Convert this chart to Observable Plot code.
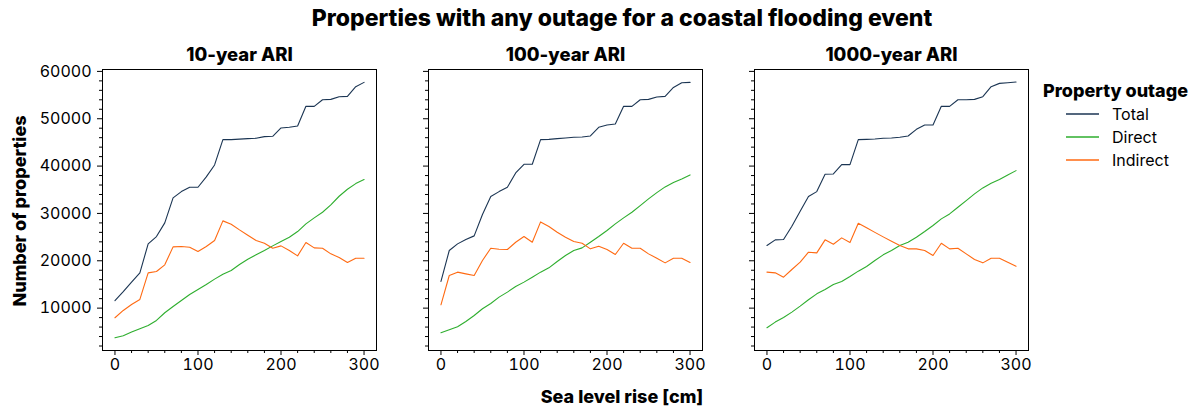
<!DOCTYPE html>
<html>
<head>
<meta charset="utf-8">
<script src="https://cdn.jsdelivr.net/npm/d3@7"></script>
<script src="https://cdn.jsdelivr.net/npm/@observablehq/plot@0.6"></script>
<style>
  html, body { margin: 0; padding: 0; background: #fff; }
  #wrap { position: relative; width: 1200px; height: 408px; font-family: Inter, "DejaVu Sans", sans-serif; color: #000; overflow: hidden; }
  .abs { position: absolute; }
  #title { left: 622px; top: 18px; transform: translate(-50%, -50%); font-weight: 800; font-size: 23px; white-space: nowrap; }
  #xlabel { left: 622px; top: 396px; transform: translate(-50%, -50%); font-weight: 800; font-size: 18px; white-space: nowrap; }
  #ylabel { left: 19px; top: 211px; transform: translate(-50%, -50%) rotate(-90deg); font-weight: 800; font-size: 18px; white-space: nowrap; }
  #legend { left: 1043px; top: 79px; }
  #legend .lt { font-weight: 800; font-size: 18px; white-space: nowrap; line-height: 24px; }
  #legend .row { display: flex; align-items: center; height: 22.7px; font-size: 16px; }
  #legend .row svg { margin-left: 23px; margin-right: 13px; }
</style>
</head>
<body>
<div id="wrap">
  <div id="title" class="abs"></div>
  <div id="ylabel" class="abs"></div>
  <div id="xlabel" class="abs"></div>
  <div id="legend" class="abs"></div>
</div>
<script>
// ---------- data ----------
const chartTitle = "Properties with any outage for a coastal flooding event";
const xLabel = "Sea level rise [cm]";
const yLabel = "Number of properties";
const legendTitle = "Property outage";
const panelTitles = ["10-year ARI", "100-year ARI", "1000-year ARI"];
const seriesNames = ["Total", "Direct", "Indirect"];
const seriesColors = ["#1b3553", "#2eae2e", "#ff6a12"];

const slr = [0, 10, 20, 30, 40, 50, 60, 70, 80, 90, 100, 110, 120, 130, 140, 150,
             160, 170, 180, 190, 200, 210, 220, 230, 240, 250, 260, 270, 280, 290, 300];

const xTicksMajor = [0, 100, 200, 300];
const xTicksMinor = [20, 40, 60, 80, 120, 140, 160, 180, 220, 240, 260, 280];
const yTicksMajor = [10000, 20000, 30000, 40000, 50000, 60000];
const yTicksMinor = [2000, 4000, 6000, 8000, 12000, 14000, 16000, 18000, 22000, 24000, 26000, 28000,
                     32000, 34000, 36000, 38000, 42000, 44000, 46000, 48000, 52000, 54000, 56000, 58000];

// 10-year ARI
const ari10Total = [11600, 13500, 15500, 17450, 23570, 25120, 28000, 33280, 34610, 35530, 35530, 37710, 40240, 45580, 45580, 45700,
                    45800, 45870, 46220, 46290, 48050, 48190, 48470, 52620, 52620, 54020, 54090, 54660, 54730, 56770, 57680];
const ari10Direct = [3740, 4160, 4940, 5640, 6340, 7400, 9020, 10350, 11620, 12880, 13940, 14990, 16120, 17170, 17950, 19210,
                     20340, 21250, 22170, 23150, 24070, 24980, 26170, 27790, 29060, 30250, 31800, 33630, 35110, 36300, 37150];
const ari10Indirect = [7960, 9510, 10770, 11830, 17450, 17740, 19140, 22940, 23010, 22870, 21960, 23010, 24280, 28430, 27720, 26530,
                       25400, 24280, 23710, 22660, 23150, 22170, 21040, 23850, 22730, 22660, 21460, 20690, 19630, 20550, 20550];

// 100-year ARI
const ari100Total = [15630, 22170, 23570, 24490, 25260, 29760, 33560, 34610, 35530, 38550, 40380, 40380, 45580, 45650, 45800, 45940,
                     46080, 46150, 46360, 48190, 48680, 48890, 52620, 52620, 54020, 54090, 54590, 54730, 56620, 57610, 57680];
const ari100Direct = [4800, 5430, 6060, 7190, 8450, 9860, 10990, 12320, 13380, 14570, 15490, 16540, 17600, 18510, 19850, 21110,
                      22170, 22730, 23920, 25120, 26390, 27790, 29060, 30250, 31660, 33070, 34400, 35600, 36510, 37290, 38130];
const ari100Indirect = [10700, 16890, 17600, 17240, 16890, 20060, 22660, 22450, 22380, 23920, 25120, 23920, 28210, 27230, 26030, 24980,
                        24070, 23710, 22520, 23080, 22380, 21320, 23710, 22660, 22660, 21460, 20550, 19560, 20550, 20550, 19630];

// 1000-year ARI
const ari1000Total = [23220, 24420, 24490, 27300, 30460, 33560, 34610, 38270, 38340, 40310, 40310, 45580, 45650, 45720, 45870, 45940,
                      46080, 46360, 47760, 48680, 48680, 52620, 52620, 54020, 54020, 54090, 54660, 56770, 57470, 57610, 57750];
const ari1000Direct = [5850, 7050, 8030, 9160, 10420, 11760, 13020, 13940, 14990, 15630, 16680, 17810, 18790, 20060, 21250, 22170,
                       23220, 23920, 24980, 26170, 27440, 28850, 29900, 31310, 32710, 34120, 35390, 36370, 37150, 38130, 39040];
const ari1000Indirect = [17600, 17450, 16540, 18160, 19700, 21810, 21670, 24420, 23500, 24840, 23850, 27930, 26980, 26000, 25050, 24140,
                         23220, 22520, 22520, 22170, 21110, 23710, 22520, 22660, 21460, 20270, 19560, 20550, 20550, 19700, 18860];

const panelSeries = [
  [ari10Total, ari10Direct, ari10Indirect],
  [ari100Total, ari100Direct, ari100Indirect],
  [ari1000Total, ari1000Direct, ari1000Indirect]
];

// ---------- layout ----------
const frameLefts = [102, 428.3, 754.2];
const frameWidth = 274;
const font = 'Inter, "DejaVu Sans", sans-serif';

function makePanel(i) {
  const rows = [];
  seriesNames.forEach((s, j) => {
    panelSeries[i][j].forEach((v, k) => rows.push({ slr: slr[k], value: v, series: s }));
  });
  const showLabels = i === 0;
  const mL = showLabels ? 102 : 20;
  const mR = 14;
  const plot = Plot.plot({
    width: mL + frameWidth + mR,
    height: 380,
    marginLeft: mL,
    marginRight: mR,
    marginTop: 69,
    marginBottom: 30,
    style: { background: "transparent", fontFamily: font, fontSize: "16px", color: "#000", overflow: "visible" },
    x: { domain: [-15, 315] },
    y: { domain: [1050, 60400] },
    color: { domain: seriesNames, range: seriesColors },
    marks: [
      Plot.axisX({ ticks: xTicksMajor, tickSize: 5, tickPadding: 3, tickFormat: d3.format("d"), label: null, fontSize: 16 }),
      Plot.axisX({ ticks: xTicksMinor, tickSize: 3, tickFormat: () => "", label: null }),
      Plot.axisY({ ticks: yTicksMajor, tickSize: 5, tickPadding: 6, tickFormat: showLabels ? d3.format("d") : () => "", label: null, fontSize: 16 }),
      Plot.axisY({ ticks: yTicksMinor, tickSize: 3, tickFormat: () => "", label: null }),
      Plot.line(rows, { x: "slr", y: "value", stroke: "series", z: "series", strokeWidth: 1.1 }),
      Plot.frame({ stroke: "#000", strokeWidth: 1 }),
      Plot.text([panelTitles[i]], { frameAnchor: "top", dy: -14, fontWeight: 800, fontSize: 18.5, lineAnchor: "middle" })
    ]
  });
  plot.style.position = "absolute";
  plot.style.left = (frameLefts[i] - mL) + "px";
  plot.style.top = "0px";
  return plot;
}

const wrap = document.getElementById("wrap");
for (let i = 0; i < 3; i++) wrap.appendChild(makePanel(i));

document.getElementById("title").textContent = chartTitle;
document.getElementById("xlabel").textContent = xLabel;
document.getElementById("ylabel").textContent = yLabel;

const legend = document.getElementById("legend");
const lt = document.createElement("div");
lt.className = "lt";
lt.textContent = legendTitle;
legend.appendChild(lt);
seriesNames.forEach((s, j) => {
  const row = document.createElement("div");
  row.className = "row";
  row.innerHTML = `<svg width="33" height="4"><line x1="0" x2="33" y1="2" y2="2" stroke="${seriesColors[j]}" stroke-width="1.3"/></svg><span>${s}</span>`;
  legend.appendChild(row);
});
</script>
</body>
</html>
